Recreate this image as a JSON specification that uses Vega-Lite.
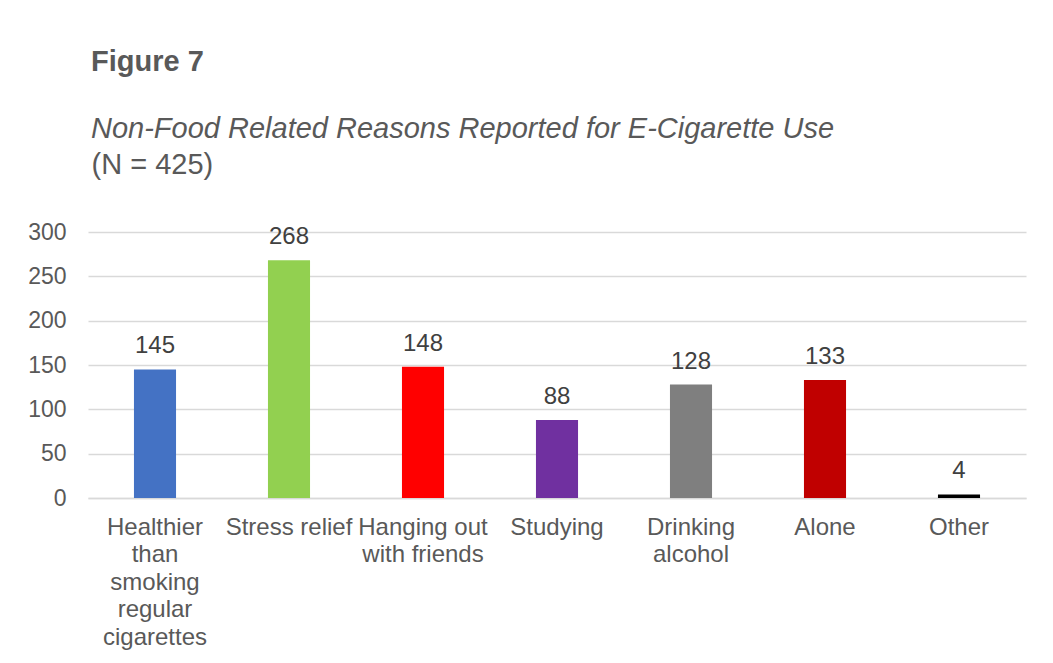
{
  "$schema": "https://vega.github.io/schema/vega-lite/v6.json",
  "autosize": {"type": "none"},
  "padding": {"left": 88, "top": 232, "right": 27, "bottom": 165},
  "width": 938,
  "height": 266,
  "background": "white",
  "title": {
    "text": "Figure 7",
    "subtitle": "Non-Food Related Reasons Reported for E-Cigarette Use",
    "anchor": "start",
    "frame": "group",
    "dx": 3,
    "offset": 6,
    "font": "Liberation Sans",
    "fontSize": 29,
    "fontWeight": "bold",
    "color": "#595959",
    "subtitleFont": "Liberation Sans",
    "subtitleFontSize": 29,
    "subtitleFontStyle": "italic",
    "subtitleColor": "#595959",
    "subtitlePadding": 38
  },
  "data": {
    "values": [
      {"reason": "Healthier than smoking regular cigarettes", "count": 145},
      {"reason": "Stress relief", "count": 268},
      {"reason": "Hanging out with friends", "count": 148},
      {"reason": "Studying", "count": 88},
      {"reason": "Drinking alcohol", "count": 128},
      {"reason": "Alone", "count": 133},
      {"reason": "Other", "count": 4}
    ]
  },
  "encoding": {
    "x": {
      "field": "reason",
      "type": "nominal",
      "sort": null,
      "scale": {"paddingInner": 0.686, "paddingOuter": 0.343},
      "axis": {
        "title": null,
        "labelAngle": 0,
        "labelFont": "Liberation Sans",
        "labelFontSize": 24,
        "labelColor": "#595959",
        "labelLineHeight": 27.5,
        "labelPadding": 17,
        "labelBaseline": "top",
        "ticks": false,
        "tickSize": 0,
        "domainColor": "#d9d9d9",
        "domainWidth": 1.5,
        "labelLimit": 0,
        "labelOverlap": false,
        "labelExpr": "datum.label == 'Healthier than smoking regular cigarettes' ? ['Healthier', 'than', 'smoking', 'regular', 'cigarettes'] : datum.label == 'Hanging out with friends' ? ['Hanging out', 'with friends'] : datum.label == 'Drinking alcohol' ? ['Drinking', 'alcohol'] : datum.label"
      }
    },
    "y": {
      "field": "count",
      "type": "quantitative",
      "scale": {"domain": [0, 300], "nice": false},
      "axis": {
        "values": [0, 50, 100, 150, 200, 250, 300],
        "title": "(N = 425)",
        "titleAngle": 0,
        "titleAlign": "left",
        "titleBaseline": "alphabetic",
        "titleX": 3,
        "titleY": -59,
        "titleFont": "Liberation Sans",
        "titleFontSize": 29,
        "titleFontWeight": "normal",
        "titleColor": "#595959",
        "labelFont": "Liberation Sans",
        "labelFontSize": 23,
        "labelColor": "#595959",
        "labelPadding": 22,
        "ticks": false,
        "tickSize": 0,
        "domain": false,
        "grid": true,
        "gridColor": "#d9d9d9",
        "gridWidth": 1.5
      }
    }
  },
  "layer": [
    {
      "mark": {"type": "bar"},
      "encoding": {
        "color": {
          "field": "reason",
          "type": "nominal",
          "sort": null,
          "scale": {
            "domain": ["Healthier than smoking regular cigarettes", "Stress relief", "Hanging out with friends", "Studying", "Drinking alcohol", "Alone", "Other"],
            "range": ["#4472C4", "#92D050", "#FF0000", "#7030A0", "#7F7F7F", "#C00000", "#000000"]
          },
          "legend": null
        }
      }
    },
    {
      "mark": {"type": "text", "baseline": "alphabetic", "dy": -16, "font": "Liberation Sans", "fontSize": 24, "color": "#404040"},
      "encoding": {"text": {"field": "count", "type": "quantitative"}}
    }
  ],
  "config": {"view": {"stroke": null}}
}
